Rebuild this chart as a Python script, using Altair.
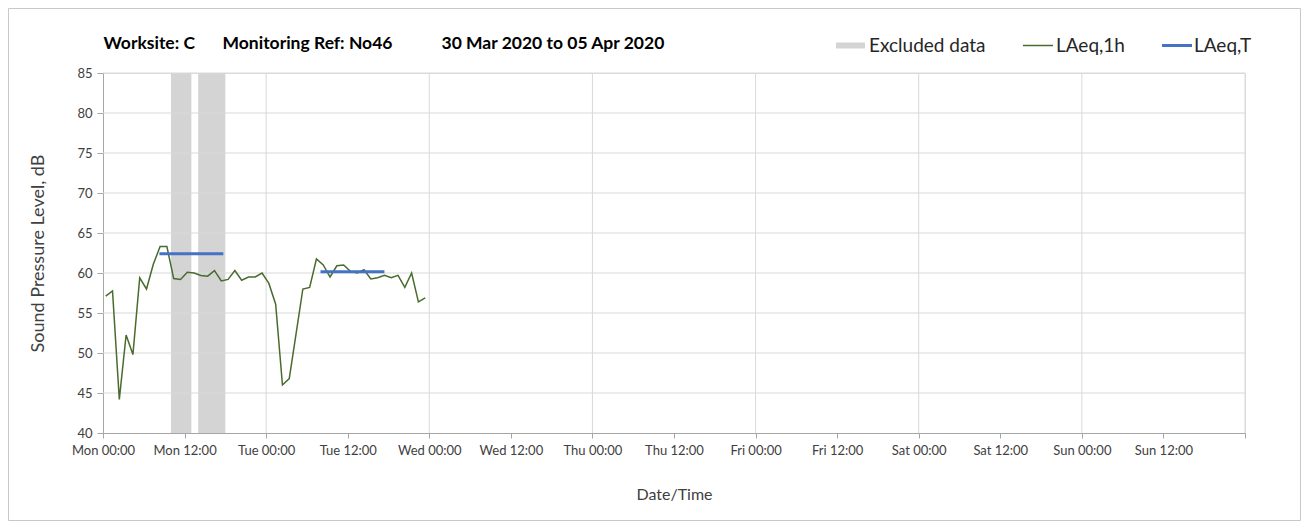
import json
import altair as alt
import pandas as pd

# ---------------- data ----------------
# hours since Mon 30 Mar 2020 00:00 (hourly LAeq,1h readings)
hours = [h + 0.4 for h in range(48)]
laeq_1h = [57.1, 57.75, 44.2, 52.25, 49.8, 59.4, 58.0, 61.1, 63.3, 63.3,
           59.3, 59.2, 60.1, 60.0, 59.7, 59.6, 60.3, 59.0, 59.2, 60.3,
           59.1, 59.5, 59.5, 60.0, 58.7, 56.1, 46.0, 46.8, 52.4, 58.0,
           58.2, 61.75, 61.0, 59.5, 60.9, 61.0, 60.2, 60.0, 60.4, 59.25,
           59.4, 59.7, 59.4, 59.7, 58.2, 60.0, 56.4, 56.9]

laeqT_start = [8.3, 32.0]
laeqT_end = [17.7, 41.4]
laeqT_value = [62.4, 60.15]

excl_start = [10, 14]
excl_end = [13, 18]

tick_labels = ["Mon 00:00", "Mon 12:00", "Tue 00:00", "Tue 12:00", "Wed 00:00",
               "Wed 12:00", "Thu 00:00", "Thu 12:00", "Fri 00:00", "Fri 12:00",
               "Sat 00:00", "Sat 12:00", "Sun 00:00", "Sun 12:00", ""]
tick_hours = [12 * i for i in range(15)]
day_lines = [24 * i for i in range(1, 8)]
y_levels = [40, 45, 50, 55, 60, 65, 70, 75, 80, 85]

title_parts = ["Worksite: C", "Monitoring Ref: No46", "30 Mar 2020 to 05 Apr 2020"]

FONT = "Lato"
W, H = 1142, 360

line_df = pd.DataFrame({"t": hours, "v": laeq_1h})
t_df = pd.DataFrame({"s": laeqT_start, "e": laeqT_end, "v": laeqT_value})
ex_df = pd.DataFrame({"s": excl_start, "e": excl_end})
day_df = pd.DataFrame({"t": day_lines})
lev_df = pd.DataFrame({"v": y_levels[1:]})
one = pd.DataFrame({"a": [0]})

xscale = alt.Scale(domain=[0, 168], nice=False, zero=False)
yscale = alt.Scale(domain=[40, 85], nice=False, zero=False)

label_expr = json.dumps(tick_labels) + "[round(datum.value/12)]"

x_axis = alt.Axis(values=tick_hours, labelExpr=label_expr, title="Date/Time",
                  grid=False, domainColor="#A6A6A6", tickColor="#A6A6A6",
                  tickSize=5, labelPadding=6, labelFontSize=13,
                  labelColor="#404040", titleFontSize=16, titleFontWeight="normal",
                  titleColor="#404040", titlePadding=29, labelFont=FONT,
                  titleFont=FONT, labelFlush=False, labelOverlap=False)
y_axis = alt.Axis(values=y_levels, grid=False, title="Sound Pressure Level, dB",
                  domainColor="#A6A6A6", tickColor="#A6A6A6", tickSize=6,
                  labelPadding=5, labelFontSize=13, labelColor="#404040",
                  titleFontSize=18, titleFontWeight="normal", titleColor="#404040",
                  titlePadding=29, labelFont=FONT, titleFont=FONT,
                  labelOverlap=False, labelFlush=False)

border = alt.Chart(one).mark_rect(fillOpacity=0, stroke="#C8C8C8", strokeWidth=1).encode(
    x=alt.value(-94.5), x2=alt.value(1197.5), y=alt.value(-64.5), y2=alt.value(447.5)
)

bands = alt.Chart(ex_df).mark_rect(color="#D4D4D4").encode(
    x=alt.X("s:Q", scale=xscale, axis=x_axis),
    x2="e:Q",
    y=alt.Y(datum=85, scale=yscale, axis=y_axis, type="quantitative"),
    y2=alt.Y2(datum=40),
)

vgrid = alt.Chart(day_df).mark_rule(color="#D9D9D9", strokeWidth=1).encode(
    x=alt.X("t:Q", scale=xscale, axis=x_axis), y=alt.value(0), y2=alt.value(H)
)
hgrid = alt.Chart(lev_df).mark_rule(color="#D9D9D9", strokeWidth=1).encode(
    y=alt.Y("v:Q", scale=yscale, axis=y_axis), x=alt.value(0), x2=alt.value(W)
)

line = alt.Chart(line_df).mark_line(color="#4A6B2E", strokeWidth=1.5).encode(
    x=alt.X("t:Q", scale=xscale, axis=x_axis),
    y=alt.Y("v:Q", scale=yscale, axis=y_axis),
)

tline = alt.Chart(t_df).mark_rule(color="#4472C4", strokeWidth=3).encode(
    x=alt.X("s:Q", scale=xscale, axis=x_axis), x2="e:Q",
    y=alt.Y("v:Q", scale=yscale, axis=y_axis)
)

title_x = [0.5, 119.5, 338.5]
titles = [
    alt.Chart(one).mark_text(text=txt, font=FONT, fontSize=17.5, fontWeight="bold",
                             align="left", baseline="middle", color="#000000").encode(
        x=alt.value(xp), y=alt.value(-29.5))
    for txt, xp in zip(title_parts, title_x)
]

leg_rect = alt.Chart(one).mark_rect(color="#D4D4D4").encode(
    x=alt.value(733), x2=alt.value(762), y=alt.value(-30.5), y2=alt.value(-24.5))
leg_green = alt.Chart(one).mark_rule(color="#4A6B2E", strokeWidth=1.5).encode(
    x=alt.value(920), x2=alt.value(950), y=alt.value(-27.5))
leg_blue = alt.Chart(one).mark_rule(color="#4472C4", strokeWidth=3).encode(
    x=alt.value(1059), x2=alt.value(1089), y=alt.value(-27.5))
leg_texts = [
    alt.Chart(one).mark_text(text=txt, font=FONT, fontSize=19, align="left",
                             baseline="middle", color="#262626").encode(
        x=alt.value(xp), y=alt.value(-27.5))
    for txt, xp in zip(["Excluded data", "LAeq,1h", "LAeq,T"], [766, 953, 1091])
]

chart = alt.layer(
    border, bands, vgrid, hgrid, line, tline, *titles, leg_rect, leg_green, leg_blue, *leg_texts
).properties(
    width=W, height=H,
    padding={"left": 95, "top": 65, "right": 56, "bottom": 88},
    autosize=alt.AutoSizeParams(type="none"),
).configure_view(stroke=None).configure(font=FONT)

chart.save("out.html", embed_options={"renderer": "svg", "actions": False})
